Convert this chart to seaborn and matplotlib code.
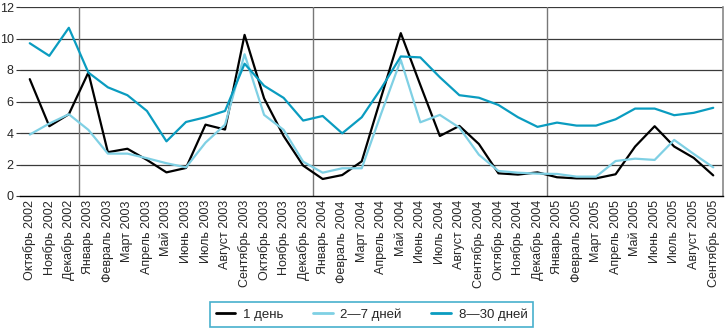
import matplotlib
matplotlib.use("Agg")
import matplotlib.pyplot as plt
import seaborn as sns
import pandas as pd
import numpy as np

months = ["Октябрь 2002", "Ноябрь 2002", "Декабрь 2002",
          "Январь 2003", "Февраль 2003", "Март 2003", "Апрель 2003", "Май 2003", "Июнь 2003",
          "Июль 2003", "Август 2003", "Сентябрь 2003", "Октябрь 2003", "Ноябрь 2003", "Декабрь 2003",
          "Январь 2004", "Февраль 2004", "Март 2004", "Апрель 2004", "Май 2004", "Июнь 2004",
          "Июль 2004", "Август 2004", "Сентябрь 2004", "Октябрь 2004", "Ноябрь 2004", "Декабрь 2004",
          "Январь 2005", "Февраль 2005", "Март 2005", "Апрель 2005", "Май 2005", "Июнь 2005",
          "Июль 2005", "Август 2005", "Сентябрь 2005"]

day1 = [7.42, 4.43, 5.19, 7.84, 2.78, 3.0, 2.29, 1.5, 1.78, 4.53, 4.22, 10.23,
        6.2, 3.81, 1.93, 1.08, 1.33, 2.2, 6.3, 10.34, 7.05, 3.81, 4.45, 3.3,
        1.44, 1.36, 1.5, 1.19, 1.12, 1.12, 1.38, 3.14, 4.43, 3.14, 2.42, 1.31]

days2_7 = [3.9, 4.6, 5.19, 4.2, 2.69, 2.69, 2.4, 2.08, 1.82, 3.39, 4.53, 9.0,
           5.15, 4.2, 2.18, 1.48, 1.76, 1.76, 5.25, 8.64, 4.68, 5.15, 4.34, 2.62,
           1.59, 1.48, 1.42, 1.4, 1.23, 1.23, 2.22, 2.37, 2.29, 3.56, 2.67, 1.82]

days8_30 = [9.7, 8.9, 10.68, 7.84, 6.9, 6.4, 5.4, 3.47, 4.7, 5.0, 5.4, 8.4,
            7.0, 6.23, 4.79, 5.08, 3.98, 5.0, 6.84, 8.86, 8.8, 7.54, 6.4, 6.24,
            5.78, 5.0, 4.39, 4.66, 4.47, 4.47, 4.87, 5.55, 5.55, 5.13, 5.28, 5.6]

series_names = ["1 день", "2—7 дней", "8—30 дней"]
colors = ["#000000", "#7fd0e4", "#0a9cc0"]
y_ticks = [0, 2, 4, 6, 8, 10, 12]

sns.set_style("white")
plt.rcParams["font.family"] = ["Liberation Sans", "DejaVu Sans"]

x = np.arange(len(months))
df = pd.DataFrame({
    "x": np.tile(x, 3),
    "value": day1 + days2_7 + days8_30,
    "series": np.repeat(series_names, len(months)),
})

fig = plt.figure(figsize=(7.25, 3.28), dpi=100)
ax = fig.add_axes([20 / 725, 1 - 196 / 328, 703 / 725, 189 / 328])

for yv in y_ticks[1:]:
    ax.axhline(yv, color="#3a3a3a", lw=0.9, zorder=1)
for b in [2.5, 14.5, 26.5]:
    ax.axvline(b, color="#777777", lw=1.0, zorder=1)

sns.lineplot(data=df, x="x", y="value", hue="series", palette=colors,
             hue_order=series_names, ax=ax, lw=1.6, zorder=3)

ax.set_xlim(-0.5, len(months) - 0.5)
ax.set_ylim(0, 12)
ax.set_yticks(y_ticks)
ax.set_yticklabels([str(v) for v in y_ticks], fontsize=9)
ax.set_xticks(x)
ax.set_xticklabels(months, rotation=90, fontsize=9)
ax.set_xticks(np.arange(-0.5, len(months), 1), minor=True)
ax.tick_params(axis="x", which="major", length=0, pad=3)
ax.tick_params(axis="x", which="minor", length=4, width=0.8, color="#333333", direction="out")
ax.tick_params(axis="y", length=3, width=0.8, color="#333333", pad=1.5, left=True)
ax.set_xlabel("")
ax.set_ylabel("")

ax.spines["left"].set_visible(False)
ax.spines["bottom"].set_color("#000000")
ax.spines["bottom"].set_linewidth(1.0)
ax.spines["top"].set_visible(False)
ax.spines["right"].set_color("#888888")
ax.spines["right"].set_linewidth(1.2)

leg = ax.legend(loc="center", bbox_to_anchor=(371.5 / 725, 1 - 314.5 / 328),
                bbox_transform=fig.transFigure, ncol=3, frameon=True, fancybox=False,
                fontsize=9.5, handlelength=1.5, columnspacing=2.2, handletextpad=0.6,
                borderpad=0.45)
leg.get_frame().set_edgecolor("#1a9cc0")
leg.get_frame().set_linewidth(1.2)
for line in leg.get_lines():
    line.set_linewidth(2.0)

fig.savefig("out.png", dpi=100)
